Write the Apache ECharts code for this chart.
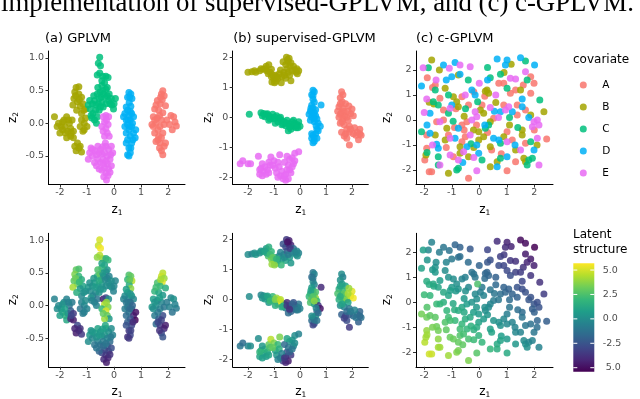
<!DOCTYPE html>
<html>
<head>
<meta charset="utf-8">
<script src="https://cdn.jsdelivr.net/npm/echarts@6/dist/echarts.min.js"></script>
<style>
  html, body { margin: 0; padding: 0; background: #fff; }
  #chart { width: 640px; height: 399px; }
</style>
</head>
<body>
<div id="chart"></div>
<script>
// ---- data: [z1, z2, latent] per point, one list per covariate ----
const covariates = ['A', 'B', 'C', 'D', 'E'];
const xTicks = [-2, -1, 0, 1, 2];
const gplvmYTicks = [-0.5, 0, 0.5, 1];
const supYTicks = [-2, -1, 0, 1, 2];
const cgpYTicks = [-2, -1, 0, 1, 2];
const latentTicks = [5, 2.5, 0, -2.5, -5];
const latentLabels = ['5.0', '2.5', '0.0', '-2.5', '5.0'];
const latentMin = -5.41;
const latentMax = 5.69;
const caption = 'implementation of supervised-GPLVM, and (c) c-GPLVM.';

// (a) GPLVM
const gplvmA = [[1.80,0.50,4.5],[1.75,0.45,4.8],[1.85,0.42,4.0],[1.78,0.36,5.2],[1.60,0.35,2.5],[1.70,0.30,2.0],[1.90,0.27,1.5],[1.50,0.22,1.8],[1.65,0.20,1.2],[1.80,0.16,0.5],[1.45,0.10,0.8],[1.60,0.08,0.2],[1.75,0.05,-0.3],[1.55,0.00,0.0],[1.40,-0.02,0.5],[1.70,-0.05,-0.5],[1.85,-0.02,-1.0],[2.10,0.12,-0.3],[2.20,0.10,0.2],[2.05,-0.02,-0.5],[2.30,-0.04,-0.8],[2.15,-0.10,-1.2],[1.50,-0.15,-0.8],[1.65,-0.20,-2.0],[1.80,-0.15,-2.8],[1.55,-0.28,-1.5],[1.70,-0.30,-3.5],[1.85,-0.35,-4.2],[1.75,-0.42,-3.0],[1.80,-0.48,-2.5],[1.62,-0.25,-3.0],[1.90,-0.30,-4.5],
  [1.72,0.40,4.2],[1.55,0.28,2.2],[1.68,0.12,0.8],[1.50,0.05,0.3],[1.62,-0.10,-1.0],[1.75,-0.22,-3.2],[1.95,0.05,-0.8],[2.25,0.02,-0.5],[1.68,-0.38,-3.8],[1.45,-0.05,0.0]];
const gplvmB = [[-1.40,0.55,3.0],[-1.30,0.56,2.5],[-1.45,0.48,3.5],[-1.30,0.45,2.0],[-1.20,0.40,1.5],[-1.48,0.38,2.8],[-1.35,0.33,3.0],[-1.15,0.30,1.0],[-1.25,0.26,0.5],[-1.52,0.28,4.2],[-1.05,0.22,0.3],[-1.20,0.15,-0.2],[-1.38,0.20,1.5],[-1.20,0.05,-0.5],[-1.10,0.00,-0.3],[-1.25,-0.05,-1.0],[-1.15,-0.12,-0.8],[-1.05,0.08,0.0],[-1.00,-0.05,-0.5],[-2.20,0.10,-0.5],[-2.05,0.00,-0.2],[-1.95,-0.05,0.5],[-1.85,0.05,0.0],[-1.75,0.10,-0.5],[-1.65,0.00,-1.0],[-1.55,0.05,-0.8],[-1.90,-0.10,1.0],[-1.80,-0.15,1.5],[-1.70,-0.12,0.5],[-1.60,-0.08,-2.0],[-1.50,-0.12,-3.5],[-1.75,-0.22,1.2],[-1.60,-0.20,-4.0],[-1.50,-0.22,-4.5],[-2.00,-0.15,0.8],[-1.35,-0.30,-3.0],[-1.25,-0.35,-3.8],[-1.40,-0.42,-4.5],[-1.20,-0.44,-3.5],[-1.30,-0.38,-4.0],
  [-1.42,0.42,3.2],[-1.28,0.36,2.0],[-1.12,0.20,0.2],[-1.90,0.02,0.2],[-1.68,0.05,-0.5],[-1.82,-0.05,0.8],[-1.58,-0.15,-3.0],[-2.10,-0.05,0.0],[-1.10,-0.10,-0.6],[-1.45,-0.35,-4.2]];
const gplvmC = [[-0.53,1.01,5.0],[-0.58,0.92,4.8],[-0.50,0.88,5.5],[-0.53,0.77,4.5],[-0.62,0.74,3.8],[-0.42,0.72,4.0],[-0.30,0.72,1.5],[-0.22,0.70,2.0],[-0.95,0.28,0.5],[-0.88,0.22,0.0],[-0.80,0.30,0.3],[-0.72,0.35,0.8],[-0.62,0.45,2.0],[-0.52,0.48,3.0],[-0.48,0.40,2.5],[-0.58,0.30,1.0],[-0.45,0.32,0.5],[-0.68,0.20,0.0],[-0.78,0.15,-0.5],[-0.55,0.20,0.2],[-0.38,0.45,0.0],[-0.30,0.52,-0.5],[-0.25,0.42,-0.3],[-0.20,0.35,0.0],[-0.15,0.30,-0.2],[-0.08,0.28,0.2],[-0.02,0.22,-0.5],[0.05,0.38,-0.3],[-0.40,0.25,0.5],[-0.30,0.30,0.0],[-0.62,0.10,-1.0],[-0.72,0.05,-0.8],[-0.85,0.12,0.3],[-0.25,0.55,0.3],[-0.35,0.62,1.0],[-0.45,0.58,1.5],[-0.65,0.00,-0.5],
  [-0.90,0.35,0.2],[-0.75,0.42,0.5],[-0.68,0.28,0.6],[-0.55,0.38,1.2],[-0.42,0.50,0.5],[-0.32,0.40,-0.2],[-0.18,0.45,-0.5],[-0.10,0.38,0.0],[0.00,0.30,-0.3],[-0.50,0.25,0.3],[-0.60,0.55,2.5],[-0.45,0.65,1.0],[-0.82,0.08,-0.5]];
const gplvmD = [[0.55,0.47,2.5],[0.62,0.45,3.0],[0.50,0.40,2.0],[0.66,0.38,4.5],[0.56,0.32,1.5],[0.62,0.26,3.8],[0.50,0.20,0.5],[0.40,0.15,0.0],[0.35,0.10,-0.5],[0.45,0.05,-1.0],[0.55,0.12,-0.5],[0.65,0.15,0.5],[0.72,0.10,-0.2],[0.60,0.05,-1.5],[0.50,-0.02,-1.2],[0.40,-0.05,-0.8],[0.55,-0.10,-1.0],[0.65,-0.05,-2.0],[0.72,-0.15,-4.0],[0.80,-0.10,-4.8],[0.78,-0.22,-5.2],[0.60,-0.20,-2.5],[0.50,-0.25,-2.0],[0.65,-0.30,-3.0],[0.55,-0.38,-3.5],[0.60,-0.45,-3.0],[0.50,-0.48,-3.8],[0.45,-0.15,-1.5],
  [0.58,0.40,2.8],[0.45,0.25,0.8],[0.60,0.18,0.3],[0.52,0.05,-1.0],[0.68,0.00,-1.8],[0.58,-0.05,-1.5],[0.45,-0.30,-2.5],[0.62,-0.38,-3.2],[0.55,-0.50,-3.5],[0.70,-0.25,-4.0]];
const gplvmE = [[-0.40,0.10,-4.5],[-0.30,0.12,-3.0],[-0.20,0.10,0.0],[-0.35,0.02,4.5],[-0.22,-0.02,3.5],[-0.45,-0.05,2.0],[-0.30,-0.08,5.0],[-0.25,-0.15,3.0],[-0.18,-0.20,0.5],[-0.35,-0.20,4.0],[-0.90,-0.45,0.5],[-0.95,-0.55,0.0],[-0.80,-0.50,-0.2],[-0.70,-0.42,0.8],[-0.60,-0.35,1.0],[-0.50,-0.40,0.5],[-0.45,-0.47,0.0],[-0.60,-0.55,-0.5],[-0.72,-0.60,-1.0],[-0.50,-0.60,-1.2],[-0.40,-0.55,-0.8],[-0.30,-0.35,0.8],[-0.20,-0.40,0.3],[-0.10,-0.35,0.0],[-0.05,-0.45,-0.5],[-0.15,-0.55,-1.5],[-0.25,-0.62,-2.0],[-0.35,-0.68,-2.5],[-0.45,-0.72,-3.0],[-0.30,-0.76,-3.5],[-0.20,-0.70,-3.2],[-0.10,-0.65,-2.8],[-0.38,-0.82,-4.0],[-0.28,-0.87,-4.5],[-0.22,-0.80,-4.2],[-0.85,-0.38,0.3],
  [-0.80,-0.40,0.5],[-0.65,-0.48,0.2],[-0.55,-0.45,0.6],[-0.35,-0.45,0.4],[-0.25,-0.50,-0.5],[-0.12,-0.48,-0.8],[-0.40,-0.62,-1.5],[-0.55,-0.70,-1.8],[-0.65,-0.65,-1.2],[-0.30,-0.58,-1.0],[-0.15,-0.75,-3.8],[-0.32,-0.30,1.2],[-0.42,-0.36,0.8],[-0.28,0.05,4.0],[-0.40,-0.12,3.0]];

// (b) supervised-GPLVM
const supA = [[1.60,0.85,0.0],[1.65,0.75,-0.5],[1.55,0.65,0.2],[1.62,0.52,0.5],[1.75,0.45,1.0],[1.50,0.35,1.5],[1.65,0.30,2.0],[1.45,0.20,2.5],[1.60,0.15,1.8],[1.72,0.05,3.0],[1.50,0.00,1.5],[1.65,-0.05,2.2],[1.80,0.00,3.5],[1.95,0.12,4.5],[2.00,0.28,5.2],[1.88,0.38,4.0],[2.05,0.05,5.5],[1.85,-0.10,1.0],[1.55,-0.20,0.0],[1.70,-0.25,-0.5],[1.90,-0.30,-1.0],[1.60,-0.50,-2.0],[1.75,-0.55,-3.0],[1.90,-0.50,-2.5],[2.05,-0.55,-1.5],[2.20,-0.50,-1.0],[2.30,-0.40,-1.8],[2.35,-0.60,-1.2],[2.25,-0.75,-2.0],[1.90,-0.92,-3.5],[2.10,-0.35,-0.5],[1.80,-0.70,-2.8],
  [1.55,0.45,1.0],[1.70,0.20,2.8],[1.55,0.10,1.5],[1.62,-0.15,1.0],[1.80,-0.40,-1.5],[1.95,-0.40,-0.8],[2.15,-0.60,-1.2],[1.70,-0.62,-3.2],[2.30,-0.55,-1.5],[1.85,0.20,4.2]];
const supB = [[-2.00,1.50,0.0],[-1.85,1.52,-0.5],[-1.70,1.50,0.5],[-1.55,1.55,0.0],[-1.42,1.60,1.0],[-1.30,1.70,0.5],[-1.20,1.75,1.5],[-1.10,1.60,2.0],[-1.22,1.45,2.5],[-1.10,1.35,3.5],[-1.00,1.28,3.0],[-0.92,1.20,2.8],[-1.08,1.18,4.0],[-0.95,1.40,1.5],[-0.80,1.45,0.0],[-0.85,1.30,1.0],[-0.70,1.35,0.5],[-0.62,1.50,-1.0],[-0.50,1.62,-2.0],[-0.55,1.75,-3.0],[-0.45,1.85,-4.0],[-0.42,1.97,-4.5],[-0.52,2.00,-3.5],[-0.35,1.82,-4.2],[-0.25,1.70,-1.5],[-0.30,1.55,-0.5],[-0.15,1.50,0.0],[-0.05,1.55,-0.5],[-0.10,1.45,0.2],[-0.40,1.40,0.5],[-0.55,1.30,1.0],[-0.72,1.15,2.0],[-0.35,1.22,0.5],[-0.75,1.58,-0.5],[-1.28,1.55,1.2],[-0.65,1.85,-2.5],
  [-1.75,1.55,0.2],[-1.50,1.62,0.5],[-1.35,1.62,1.0],[-1.15,1.50,2.2],[-1.05,1.40,3.0],[-0.90,1.35,1.8],[-0.60,1.40,0.0],[-0.45,1.50,-0.8],[-0.38,1.70,-3.5],[-0.20,1.58,-0.5],[-0.12,1.62,-0.3],[-0.48,1.92,-4.8],[-0.98,1.15,3.8]];
const supC = [[-1.95,0.10,0.0],[-1.50,0.15,-0.3],[-1.40,0.13,0.0],[-1.30,0.10,0.5],[-1.20,0.05,1.5],[-1.35,0.02,0.8],[-1.10,0.00,2.5],[-1.00,-0.05,3.0],[-1.05,0.10,2.0],[-0.90,0.05,4.0],[-0.80,-0.03,5.0],[-0.85,-0.15,3.5],[-0.72,-0.10,5.5],[-0.60,-0.15,2.0],[-0.50,-0.10,-4.0],[-0.55,-0.28,-1.0],[-0.40,-0.22,-4.5],[-0.30,-0.30,-3.0],[-0.35,-0.40,-2.0],[-0.45,-0.45,-1.5],[-0.20,-0.20,-1.0],[-0.10,-0.25,-0.5],[-0.05,-0.15,-1.0],[0.00,-0.30,-0.5],[-0.15,-0.35,-1.2],[-0.25,-0.10,-2.5],[-0.70,-0.25,1.0],[-1.20,-0.10,0.5],[-0.95,-0.20,1.5],
  [-1.45,0.05,0.3],[-1.25,0.12,1.0],[-1.15,-0.05,2.0],[-0.95,0.00,3.5],[-0.75,0.00,4.5],[-0.65,-0.22,1.5],[-0.50,-0.20,-3.5],[-0.30,-0.15,-2.0],[-0.20,-0.30,-1.5],[-0.08,-0.35,-0.8],[-0.40,-0.32,-3.8]];
const supD = [[0.50,0.90,-1.0],[0.55,0.85,-0.5],[0.45,0.75,-1.5],[0.50,0.60,0.0],[0.55,0.50,-0.5],[0.45,0.40,0.5],[0.40,0.20,1.5],[0.35,0.10,2.0],[0.45,0.00,3.0],[0.40,-0.10,2.5],[0.55,0.15,3.5],[0.60,0.05,4.0],[0.65,-0.05,2.0],[0.55,-0.15,1.0],[0.70,-0.20,-3.5],[0.78,-0.30,-4.8],[0.65,-0.40,-2.0],[0.60,-0.55,1.0],[0.50,-0.60,0.0],[0.45,-0.70,-1.5],[0.55,-0.80,-2.5],[0.50,-0.85,-3.0],[0.65,-0.70,-1.0],[0.81,0.41,-4.0],[0.50,0.30,0.5],[0.60,0.25,2.5],
  [0.50,0.72,-1.0],[0.42,0.30,1.0],[0.50,0.10,2.5],[0.55,-0.05,3.8],[0.62,-0.28,-0.5],[0.70,-0.45,-1.5],[0.55,-0.68,-1.0],[0.45,-0.55,0.0]];
const supE = [[-2.30,-1.55,-1.0],[-2.20,-1.45,-1.5],[-2.00,-1.55,-0.5],[-1.90,-1.55,0.0],[-1.60,-1.30,0.0],[-1.50,-1.70,1.5],[-1.40,-1.80,1.0],[-1.35,-1.65,2.0],[-1.25,-1.75,1.5],[-1.30,-1.90,0.5],[-1.20,-1.50,3.0],[-1.12,-1.32,4.5],[-1.00,-1.45,3.5],[-1.15,-1.60,2.5],[-0.95,-1.70,1.0],[-0.85,-1.50,2.0],[-0.78,-1.25,3.5],[-0.90,-1.85,0.5],[-0.75,-1.95,-1.0],[-0.65,-2.05,-3.0],[-0.55,-1.90,-4.0],[-0.50,-1.75,-2.5],[-0.45,-1.60,-1.0],[-0.40,-1.40,0.0],[-0.30,-1.35,0.5],[-0.25,-1.55,-0.5],[-0.35,-1.85,-3.5],[-0.45,-2.05,-4.5],[-0.20,-1.20,0.0],[-0.05,-1.15,-0.5],[-0.60,-1.50,-1.5],[-0.55,-2.10,-4.2],[-1.55,-1.90,1.0],[-1.45,-1.55,0.5],
  [-1.55,-1.75,1.8],[-1.45,-1.95,0.8],[-1.20,-1.85,1.0],[-1.05,-1.60,3.0],[-0.80,-1.65,1.5],[-0.70,-1.80,-0.5],[-0.60,-1.95,-3.5],[-0.40,-1.75,-2.0],[-0.30,-1.65,-1.0],[-0.20,-1.45,0.0],[-0.50,-1.30,1.0],[-0.85,-2.00,-0.5]];

// (c) c-GPLVM
const cgpA = [[-1.89,1.69,0.3],[-1.70,1.30,0.5],[-1.43,0.87,0.7],[-1.30,0.40,1.2],[-1.55,-0.07,2.1],[-1.30,0.00,1.6],[-1.91,-0.60,3.2],[-1.12,-0.60,2.2],[-0.63,-0.20,1.1],[-0.45,-0.07,0.7],[-0.51,-0.67,1.5],[-0.63,-0.87,1.9],[-0.94,-1.47,3.1],[-1.91,-1.13,3.9],[-1.98,-1.60,4.5],[-1.73,-2.07,4.8],[-1.82,-2.07,4.9],[-0.39,-2.33,3.5],[-0.20,1.13,-1.2],[-0.63,0.93,-0.4],[-0.39,0.60,-0.3],[0.71,1.47,-2.8],[0.89,1.47,-3.0],[1.32,1.20,-3.2],[1.13,1.07,-2.8],[1.87,1.07,-3.7],[1.87,1.73,-4.6],[1.99,1.47,-4.4],[0.52,0.07,-0.8],[0.89,0.60,-1.9],[1.38,0.60,-2.5],[1.38,0.20,-2.0],[1.68,0.40,-2.6],[1.01,-0.47,-0.7],[1.20,-0.80,-0.5],[1.68,-0.93,-1.0],[2.45,-0.76,-2.1],[1.01,-2.03,1.3],[1.32,-1.67,0.4],[-0.90,-0.30,1.5],[0.30,-0.50,0.3],[-0.85,0.45,0.5],[0.10,0.60,-0.9],[-0.55,-0.40,1.2],
  [-1.60,1.40,0.3],[0.20,0.95,-1.5],[0.45,-1.20,1.0],[-1.20,-1.10,2.9],[0.80,-1.35,0.7],[1.60,1.40,-3.8],[-0.10,-0.20,0.4],[2.00,-0.40,-2.0]];
const cgpB = [[-1.73,2.40,-0.5],[-0.76,1.80,-1.3],[1.16,2.23,-4.3],[0.28,1.20,-1.9],[0.34,1.07,-1.8],[1.50,1.20,-3.4],[-0.82,0.73,0.1],[-0.76,0.53,0.3],[-1.24,1.27,0.0],[-0.94,0.93,0.0],[-1.82,0.71,1.4],[-1.65,0.64,1.3],[0.04,0.40,-0.6],[0.16,0.27,-0.5],[-1.18,-0.33,1.9],[-1.24,-0.80,2.6],[-0.21,-0.40,0.8],[-0.02,-0.47,0.6],[-0.70,-1.07,2.2],[-0.39,-1.47,2.4],[-0.70,-1.33,2.6],[-1.94,-1.40,4.2],[-1.12,-2.13,4.1],[-0.02,-0.80,1.0],[0.16,-0.67,0.6],[0.40,-0.07,-0.4],[1.87,0.20,-2.6],[2.35,0.33,-3.4],[1.56,-0.40,-1.5],[0.89,-0.67,-0.3],[1.56,-0.60,-1.2],[1.32,-1.20,-0.2],[0.65,-1.67,1.3],[0.40,-1.87,1.9],[1.62,-1.53,-0.1],[1.68,-1.67,0.0],[0.40,-1.07,0.9],[0.22,1.15,-1.7],[-0.55,0.15,0.5],
  [-1.45,2.00,-0.7],[0.60,0.70,-1.6],[-0.20,-1.10,1.6],[1.10,-0.20,-1.1],[-1.60,-0.60,2.8],[0.90,1.90,-3.5],[2.10,-1.00,-1.4]];
const cgpC = [[-1.85,2.09,-0.3],[-1.12,1.00,0.2],[-1.67,0.73,1.2],[-1.49,0.60,1.1],[-1.12,0.27,1.1],[-2.10,-0.47,3.3],[-1.49,-1.47,3.8],[-1.49,-1.80,4.2],[-0.82,-2.00,3.6],[-0.76,-1.93,3.4],[0.40,1.69,-2.7],[0.77,1.83,-3.3],[1.68,2.36,-5.1],[1.74,1.60,-4.2],[1.01,1.27,-2.9],[0.22,-0.33,0.1],[0.34,-0.20,-0.2],[0.77,-0.93,0.2],[0.77,-1.53,1.0],[1.87,-0.87,-1.3],[1.80,-1.60,-0.3],[1.93,-1.53,-0.5],[1.74,-1.80,0.1],[-0.06,0.73,2.5],[-0.50,0.45,0.1],[-0.30,-0.95,1.6],[1.10,0.10,-1.5],[-1.60,1.20,0.5],
  [-0.40,1.60,-1.5],[0.30,2.10,-3.0],[-1.90,-1.30,4.1],[0.10,-1.60,1.9],[1.40,-0.30,-1.4],[-0.95,-0.05,1.2],[2.20,0.80,-3.8]];
const cgpD = [[-2.10,1.36,0.9],[-0.88,2.30,-1.8],[-1.00,1.73,-0.9],[-0.70,1.83,-1.4],[0.65,2.44,-3.9],[1.01,2.40,-4.3],[0.95,2.20,-4.0],[1.50,2.49,-5.1],[2.01,2.20,-5.4],[1.56,0.84,-3.0],[-0.15,1.00,-1.1],[-0.27,1.20,-1.2],[-1.00,0.60,0.5],[-1.79,0.27,1.9],[-1.79,-0.53,2.9],[-0.88,-0.73,2.0],[-0.76,-0.33,1.4],[-0.45,-1.07,1.9],[-1.49,-1.13,3.3],[-1.55,-0.97,3.2],[-0.09,-1.00,1.4],[-0.02,-1.33,1.7],[0.77,0.33,-1.4],[1.20,0.33,-1.9],[1.56,0.53,-2.7],[0.71,-0.80,0.1],[0.52,-0.73,0.3],[1.99,-1.20,-1.0],[1.01,-1.47,0.6],[0.65,-1.87,1.5],[0.55,0.35,-1.1],[-1.20,1.60,-0.4],
  [-1.30,2.20,-1.1],[0.20,-0.20,0.0],[-0.60,-1.70,2.9],[1.80,0.10,-2.4],[0.30,1.60,-2.4],[-1.90,-0.20,2.6],[1.30,-1.00,-0.4]];
const cgpE = [[-2.04,2.09,0.8],[-1.57,1.60,0.0],[-1.09,2.07,-1.2],[-0.33,2.13,-2.3],[1.13,1.67,-3.6],[1.32,1.64,-3.8],[1.68,1.93,-4.6],[0.00,1.47,-1.9],[-0.51,1.00,-0.6],[-1.91,0.84,1.4],[-1.06,0.47,0.8],[-1.43,-0.07,1.9],[-1.06,-0.73,2.3],[-0.27,0.00,0.3],[-0.09,0.13,0.0],[-0.15,0.33,-0.2],[-0.33,-0.60,1.2],[-0.57,-1.27,2.3],[-1.06,-1.40,3.1],[-1.43,-1.80,4.1],[-0.09,-2.03,2.7],[-0.76,-1.60,3.0],[0.95,0.40,-1.7],[1.07,0.53,-2.0],[1.99,-0.07,-2.4],[2.11,0.00,-2.7],[2.17,-0.20,-2.5],[1.93,-0.27,-2.1],[1.01,-0.87,-0.2],[2.11,-0.73,-1.8],[2.17,-1.80,-0.5],[0.60,1.00,-2.0],
  [-0.70,2.20,-1.9],[0.70,0.10,-1.0],[-1.70,-1.00,3.4],[1.50,-1.20,-0.4],[-0.20,-1.50,2.1],[0.40,0.50,-1.1],[-2.00,0.30,2.1]];

// ---- styles ----
const covColors = ['#F8766D', '#A3A500', '#00BF7D', '#00B0F6', '#E76BF3'];
const viridis = ['#440154', '#482878', '#3E4989', '#31688E', '#26828E', '#1F9E89', '#35B779', '#6DCD59', '#B4DE2C', '#FDE725'];
const font = 'DejaVu Sans';
const rowTop = [51, 233.3];
const rowH = 133.5;
const dotSize = 7;

const panels = [
  { title: '(a) GPLVM', titleX: 45, left: 48.5, width: 136.5, xMin: -2.42, xMax: 2.62, yMin: -0.937, yMax: 1.107, yTicks: gplvmYTicks, yDec: 1, yLabX: 13,
    sets: [gplvmA, gplvmB, gplvmC, gplvmD, gplvmE] },
  { title: '(b) supervised-GPLVM', titleX: 233.3, left: 232.7, width: 135.6, xMin: -2.588, xMax: 2.627, yMin: -2.24, yMax: 2.21, yTicks: supYTicks, yDec: 0, yLabX: 207.5,
    sets: [supA, supB, supC, supD, supE] },
  { title: '(c) c-GPLVM', titleX: 416, left: 416, width: 137, xMin: -2.30, xMax: 2.68, yMin: -2.58, yMax: 2.76, yTicks: cgpYTicks, yDec: 0, yLabX: 387,
    sets: [cgpA, cgpB, cgpC, cgpD, cgpE] }
];

let grids = [], xAxes = [], yAxes = [], series = [], graphics = [];

function axisBase(min, max, ticks, dec, margin) {
  return {
    type: 'value', min: min, max: max,
    splitLine: { show: false },
    axisLine: { show: true, onZero: false, lineStyle: { color: '#000', width: 1 } },
    axisTick: { show: true, customValues: ticks, length: 3, lineStyle: { color: '#333', width: 1 } },
    axisLabel: { customValues: ticks, margin: margin, color: '#4D4D4D', fontSize: 9.5, fontFamily: font,
      formatter: v => v.toFixed(dec) }
  };
}

// subscripted axis title: z + small digit
function zLabel(x, y, digit, rotated) {
  return {
    type: 'group', x: x, y: y, rotation: rotated ? Math.PI / 2 : 0, silent: true,
    children: [
      { type: 'text', x: -2, y: 0, style: { text: 'z', fontSize: 12, fontFamily: font, fill: '#000', align: 'center', verticalAlign: 'middle' } },
      { type: 'text', x: 3.5, y: 3.5, style: { text: digit, fontSize: 7.5, fontFamily: font, fill: '#000', align: 'center', verticalAlign: 'middle' } }
    ]
  };
}

for (let row = 0; row < 2; row++) {
  panels.forEach((p, i) => {
    let idx = row * 3 + i;
    grids.push({ left: p.left, top: rowTop[row], width: p.width, height: rowH });
    xAxes.push(Object.assign(axisBase(p.xMin, p.xMax, xTicks, 0, 3.5), { gridIndex: idx }));
    yAxes.push(Object.assign(axisBase(p.yMin, p.yMax, p.yTicks, p.yDec, 4.5), { gridIndex: idx }));
    graphics.push(zLabel(p.left + p.width / 2, rowTop[row] + rowH + 25, '1', false));
    graphics.push(zLabel(p.yLabX, rowTop[row] + rowH / 2, '2', true));
  });
}

// top row: coloured by covariate
panels.forEach((p, i) => {
  p.sets.forEach((pts, k) => {
    series.push({
      type: 'scatter', name: covariates[k], xAxisIndex: i, yAxisIndex: i,
      data: pts, symbolSize: dotSize, silent: true,
      itemStyle: { color: covColors[k], opacity: 0.85 }
    });
  });
});

// bottom row: coloured by latent structure
panels.forEach((p, i) => {
  series.push({
    type: 'scatter', xAxisIndex: i + 3, yAxisIndex: i + 3,
    data: [].concat(...p.sets), symbolSize: dotSize, silent: true,
    itemStyle: { opacity: 0.85 }
  });
});

// titles and caption
panels.forEach(p => {
  graphics.push({ type: 'text', x: p.titleX, y: 39, silent: true,
    style: { text: p.title, fontSize: 13, fontFamily: font, fill: '#000', verticalAlign: 'middle' } });
});
graphics.push({ type: 'text', x: 1, y: 4, silent: true,
  style: { text: caption, fontSize: 26.8, fontFamily: 'Liberation Serif', fill: '#000', verticalAlign: 'middle' } });

// covariate legend
graphics.push({ type: 'text', x: 573, y: 60, silent: true,
  style: { text: 'covariate', fontSize: 12, fontFamily: font, fill: '#000', verticalAlign: 'middle' } });
covariates.forEach((c, k) => {
  let y = 85 + k * 22;
  graphics.push({ type: 'circle', shape: { cx: 583.3, cy: y, r: 3.5 }, silent: true,
    style: { fill: covColors[k], opacity: 0.85 } });
  graphics.push({ type: 'text', x: 602.3, y: y, silent: true,
    style: { text: c, fontSize: 10.5, fontFamily: font, fill: '#000', verticalAlign: 'middle' } });
});

// latent colour bar
const barX = 573.3, barY = 263.3, barW = 21, barH = 108.4;
graphics.push({ type: 'text', x: 573, y: 235, silent: true,
  style: { text: 'Latent', fontSize: 12, fontFamily: font, fill: '#000', verticalAlign: 'middle' } });
graphics.push({ type: 'text', x: 573, y: 250, silent: true,
  style: { text: 'structure', fontSize: 12, fontFamily: font, fill: '#000', verticalAlign: 'middle' } });
graphics.push({ type: 'rect', shape: { x: barX, y: barY, width: barW, height: barH }, silent: true,
  style: { fill: { type: 'linear', x: 0, y: 1, x2: 0, y2: 0,
    colorStops: viridis.map((c, j) => ({ offset: j / (viridis.length - 1), color: c })) } } });
latentTicks.forEach((v, j) => {
  let y = barY + (latentMax - v) * barH / (latentMax - latentMin);
  graphics.push({ type: 'line', shape: { x1: barX, y1: y, x2: barX + 4, y2: y }, silent: true, style: { stroke: '#fff', lineWidth: 1 } });
  graphics.push({ type: 'line', shape: { x1: barX + barW - 4, y1: y, x2: barX + barW, y2: y }, silent: true, style: { stroke: '#fff', lineWidth: 1 } });
  graphics.push({ type: 'text', x: j === 4 ? 605.7 : 602.7, y: y, silent: true,
    style: { text: latentLabels[j], fontSize: 9.5, fontFamily: font, fill: '#4D4D4D', verticalAlign: 'middle' } });
});

let chart = echarts.init(document.getElementById('chart'), null, { renderer: 'canvas' });
chart.setOption({
  animation: false,
  backgroundColor: '#fff',
  grid: grids,
  xAxis: xAxes,
  yAxis: yAxes,
  visualMap: {
    type: 'continuous', show: false, dimension: 2,
    min: latentMin, max: latentMax, seriesIndex: [15, 16, 17],
    inRange: { color: viridis }
  },
  series: series,
  graphic: graphics
});
</script>
</body>
</html>
